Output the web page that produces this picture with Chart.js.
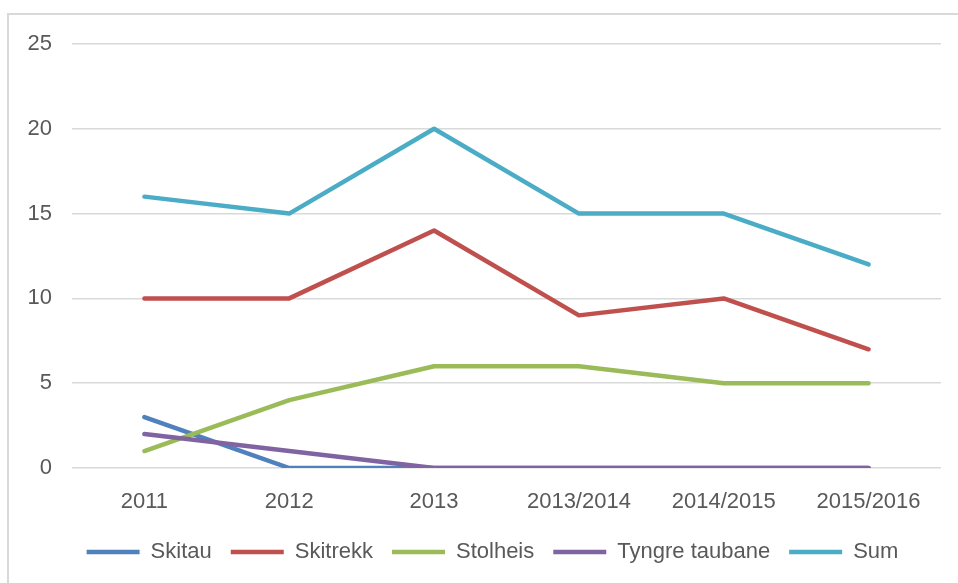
<!DOCTYPE html>
<html>
<head>
<meta charset="utf-8">
<script src="https://cdn.jsdelivr.net/npm/chart.js@4/dist/chart.umd.min.js"></script>
<style>
  html, body { margin: 0; padding: 0; background: #fff; }
  #frame {
    position: absolute; left: 7px; top: 13px; width: 960px; height: 580px;
    border-top: 2px solid #d9d9d9; border-left: 2px solid #d9d9d9;
  }
  #wrap { position: absolute; left: 0; top: 0; width: 958px; height: 583px; }
</style>
</head>
<body>
<div id="frame"></div>
<div id="wrap"><canvas id="chart"></canvas></div>
<script>
var categories = ['2011', '2012', '2013', '2013/2014', '2014/2015', '2015/2016'];
var skitau = [3, 0, 0, 0, 0, 0];
var skitrekk = [10, 10, 14, 9, 10, 7];
var stolheis = [1, 4, 6, 6, 5, 5];
var tyngreTaubane = [2, 1, 0, 0, 0, 0];
var sum = [16, 15, 20, 15, 15, 12];

var fontFamily = '"Liberation Sans", Arial, sans-serif';
var textColor = '#595959';

function make_line(label, data, color, order) {
  return {
    label: label,
    data: data,
    borderColor: color,
    backgroundColor: color,
    borderWidth: 4.5,
    borderCapStyle: 'round',
    borderJoinStyle: 'round',
    pointRadius: 0,
    pointHoverRadius: 0,
    tension: 0,
    fill: false,
    order: order
  };
}

// the legend in the picture sits a bit right of the canvas centre
var legendShift = {
  id: 'legendShift',
  afterLayout: function (chart) {
    chart.legend.left += 44;
  }
};

new Chart(document.getElementById('chart'), {
  type: 'line',
  data: {
    labels: categories,
    datasets: [
      make_line('Skitau', skitau, '#4F81BD', 5),
      make_line('Skitrekk', skitrekk, '#C0504D', 4),
      make_line('Stolheis', stolheis, '#9BBB59', 3),
      make_line('Tyngre taubane', tyngreTaubane, '#8064A2', 2),
      make_line('Sum', sum, '#4BACC6', 1)
    ]
  },
  plugins: [legendShift],
  options: {
    responsive: true,
    maintainAspectRatio: false,
    animation: false,
    layout: {
      padding: { top: 44, right: 17, bottom: 10, left: 0 }
    },
    plugins: {
      tooltip: { enabled: false },
      legend: {
        position: 'bottom',
        labels: {
          usePointStyle: true,
          pointStyle: 'line',
          pointStyleWidth: 53,
          boxHeight: 22,
          padding: 19,
          color: textColor,
          font: { family: fontFamily, size: 22 },
          sort: function (a, b) { return a.datasetIndex - b.datasetIndex; }
        }
      }
    },
    scales: {
      x: {
        offset: true,
        grid: { display: false, drawTicks: false },
        border: { display: false },
        ticks: {
          padding: 21,
          color: textColor,
          font: { family: fontFamily, size: 22 },
          maxRotation: 0,
          autoSkip: false
        },
        afterFit: function (scale) { scale.height = 54; }
      },
      y: {
        min: 0,
        max: 25,
        grid: { color: '#d9d9d9', lineWidth: 1.5, drawTicks: false },
        border: { display: false },
        ticks: {
          stepSize: 5,
          padding: 20,
          color: textColor,
          font: { family: fontFamily, size: 22 }
        },
        afterFit: function (scale) { scale.width = 72; }
      }
    }
  }
});
</script>
</body>
</html>
